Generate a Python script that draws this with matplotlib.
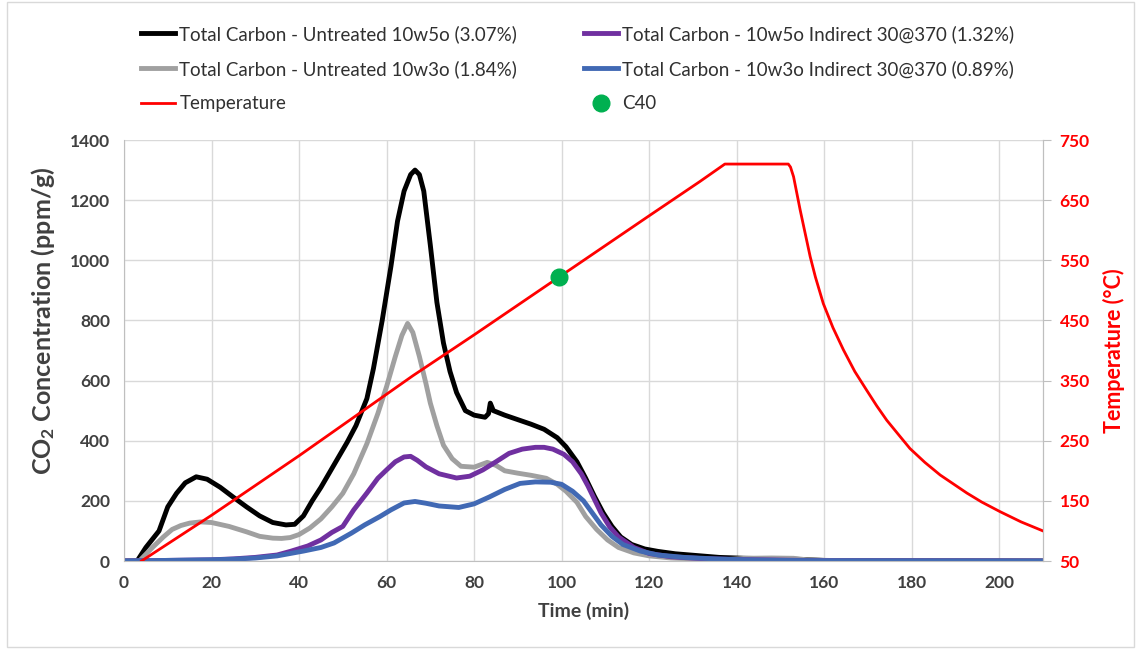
import matplotlib
matplotlib.use('Agg')
import matplotlib.pyplot as plt
from matplotlib.patches import Rectangle

plt.rcParams['font.family'] = ['Lato', 'DejaVu Sans']
plt.rcParams['mathtext.default'] = 'regular'

# CO2 curves, time in minutes, ppm/g
t_u5 = [0, 3, 5, 8, 10, 12, 14, 16.5, 19, 22, 25, 28, 31, 34, 37, 39, 41, 43, 45, 48, 51, 53, 55.5, 57, 59, 61, 62.5, 64, 65.5, 66.5, 67.5, 68.5, 70, 71.5, 73, 74.5, 76, 78, 80, 82.5, 83.3, 83.7, 84.4, 87, 90, 93, 96, 99, 101, 103.5, 105.5, 107.5, 109.5, 111.5, 113.5, 116, 119, 122, 126, 131, 136, 142, 150, 155, 160, 170, 210]
co2_u5 = [0, 0, 45, 100, 180, 225, 260, 280, 272, 245, 212, 180, 150, 128, 120, 122, 150, 200, 245, 320, 395, 450, 540, 640, 800, 980, 1130, 1230, 1285, 1300, 1285, 1230, 1050, 860, 725, 630, 560, 500, 485, 478, 490, 525, 500, 485, 470, 455, 438, 410, 380, 330, 275, 215, 160, 115, 80, 55, 40, 32, 24, 18, 12, 9, 7, 5, 2, 1, 0]

t_u3 = [0, 3.5, 6.5, 9, 11, 13, 15, 17.5, 20, 24, 28, 31, 34, 36, 38, 40, 42.5, 45, 47.5, 50, 52.5, 55.5, 58, 60, 62, 63.5, 64.8, 66, 67.5, 69, 70, 71.5, 73, 75, 77, 80, 83, 85, 87, 90, 93, 96.5, 99, 101, 103.5, 105.5, 108, 110.5, 113, 116.5, 120, 125, 132, 138, 142, 148, 153, 156, 160, 170, 210]
co2_u3 = [0, 0, 45, 80, 105, 118, 126, 130, 128, 115, 97, 82, 76, 75, 78, 88, 110, 140, 180, 225, 290, 390, 490, 580, 680, 750, 790, 760, 680, 590, 525, 450, 385, 340, 315, 312, 328, 318, 300, 292, 285, 275, 255, 232, 195, 148, 105, 70, 45, 27, 17, 10, 6, 5, 9, 10, 9, 4, 2, 1, 0]

t_i5 = [0, 10, 20, 25, 30, 35, 38, 42, 45, 47.5, 50, 52.5, 55.5, 58, 60, 62, 64, 65.5, 67, 69, 72, 76, 79, 82, 85, 88, 91, 94, 96, 98, 100.5, 102.5, 104.5, 106, 107.5, 109, 111, 113, 116.5, 120, 125, 132, 140, 150, 160, 210]
co2_i5 = [0, 2, 4, 7, 12, 20, 32, 50, 70, 95, 115, 170, 226, 275, 303, 330, 346, 348, 335, 313, 290, 276, 282, 303, 330, 358, 372, 378, 378, 372, 355, 330, 290, 250, 205, 160, 113, 80, 45, 25, 14, 8, 5, 3, 1, 0]

t_i3 = [0, 10, 20, 25, 30, 35, 38, 41, 45, 48, 52, 55, 58.5, 61, 64, 66.5, 69, 72, 76.5, 80, 83.5, 87, 90.5, 94, 97.5, 100, 102.5, 105, 107, 109, 111.5, 114, 118, 122, 128, 135, 142, 150, 160, 210]
co2_i3 = [0, 2, 4, 6, 10, 17, 25, 33, 45, 60, 93, 120, 148, 170, 193, 198, 192, 183, 178, 190, 213, 238, 258, 263, 262, 255, 232, 200, 160, 120, 82, 55, 33, 20, 12, 7, 4, 2, 1, 0]

# furnace temperature, degC
t_temp = [4, 20, 40, 66, 80, 100, 120, 131.6, 137.3, 151.8, 152.3, 153, 154.5, 155.5, 156.8, 158, 159.8, 162, 164.4, 167, 169.7, 172, 174.3, 177, 179.6, 183, 186.5, 192.6, 196, 200.2, 205, 210]
temp = [50, 126, 225, 358, 426, 525, 624, 681, 710, 710, 705, 689, 634, 600, 556, 522, 478, 438, 401, 365, 334, 308, 284, 260, 237, 214, 193, 163, 148, 132, 115, 100]

# C40 marker
t_c40 = [99.5]
temp_c40 = [522]

fig = plt.figure(figsize=(11.41, 6.49), dpi=100)
ax = fig.add_axes([124 / 1141, 88 / 649, 919 / 1141, 421 / 649])

grid_c = '#d9d9d9'
txt_c = '#404040'

l1, = ax.plot(t_u5, co2_u5, color='black', lw=3.5, label='Total Carbon - Untreated 10w5o (3.07%)')
l2, = ax.plot(t_u3, co2_u3, color='#a0a0a0', lw=3.5, label='Total Carbon - Untreated 10w3o (1.84%)')
l4, = ax.plot(t_i5, co2_i5, color='#7030a0', lw=3.5, label='Total Carbon - 10w5o Indirect 30@370 (1.32%)')
l5, = ax.plot(t_i3, co2_i3, color='#4169b4', lw=3.5, label='Total Carbon - 10w3o Indirect 30@370 (0.89%)')

ax.set_xlim(0, 210)
ax.set_ylim(0, 1400)
ax.set_xticks(range(0, 201, 20))
ax.set_yticks(range(0, 1401, 200))
ax.grid(True, color=grid_c, lw=1)
ax.set_axisbelow(True)
for s in ax.spines.values():
    s.set_color('#bfbfbf')
ax.spines['top'].set_visible(False)
ax.tick_params(axis='both', length=0, labelsize=12.5, labelcolor=txt_c, pad=10)
for lab in ax.get_xticklabels() + ax.get_yticklabels():
    lab.set_fontweight('bold')
ax.set_xlabel('Time (min)', fontsize=14, fontweight='bold', color=txt_c, labelpad=8)
ax.set_ylabel('CO$_2$ Concentration (ppm/g)', fontsize=18, fontweight='bold', color=txt_c)
ax.yaxis.set_label_coords(-0.073, 0.57)

ax2 = ax.twinx()
l3, = ax2.plot(t_temp, temp, color='red', lw=2, label='Temperature')
l6, = ax2.plot(t_c40, temp_c40, 'o', color='#00b050', ms=12, label='C40')
ax2.set_ylim(50, 750)
ax2.set_yticks(range(50, 751, 100))
ax2.tick_params(axis='y', length=6, color='#bfbfbf', labelsize=12.5, labelcolor='red', pad=6)
for lab in ax2.get_yticklabels():
    lab.set_fontweight('bold')
for s in ax2.spines.values():
    s.set_visible(False)
ax2.spines['right'].set_visible(True)
ax2.spines['right'].set_color('#bfbfbf')
ax2.set_ylabel('Temperature (°C)', fontsize=15.5, fontweight='bold', color='red')
ax2.yaxis.set_label_coords(1.065, 0.5)

fig.legend(handles=[l1, l2, l3, l4, l5, l6], ncol=2, loc='upper left',
           bbox_to_anchor=(124 / 1141, 1 - 8 / 649), frameon=False,
           fontsize=13.5, handlelength=1.8, handletextpad=0.25,
           columnspacing=3.55, labelspacing=0.92, labelcolor='#303030')

fig.patches.append(Rectangle((7 / 1141, 2 / 649), 1127 / 1141, 645 / 649,
                             transform=fig.transFigure, fill=False,
                             edgecolor='#d9d9d9', lw=1))

fig.savefig('out.png', dpi=100)
